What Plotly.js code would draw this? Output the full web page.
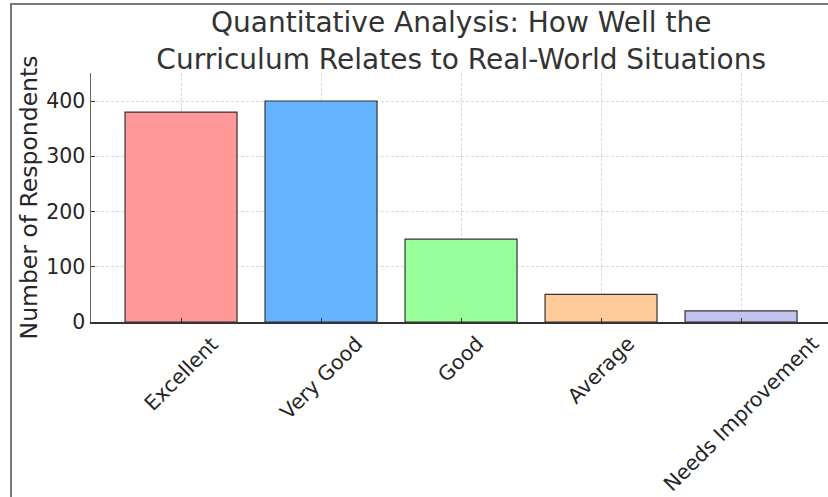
<!DOCTYPE html>
<html>
<head>
<meta charset="utf-8">
<script src="https://cdn.plot.ly/plotly-3.0.1.min.js"></script>
<style>
  html, body { margin: 0; padding: 0; background: #fff; }
  #chart { position: absolute; left: 0; top: 0; width: 828px; height: 497px; }
  #frame { position: absolute; left: 10px; top: 3px; width: 830px; height: 500px;
           border-left: 2px solid #7a7a7a; border-top: 2px solid #7a7a7a; pointer-events: none; box-sizing: border-box; }
</style>
</head>
<body>
<div id="chart"></div>
<div id="frame"></div>
<script>
const categories = ["Excellent", "Very Good", "Good", "Average", "Needs Improvement"];
const respondents = [380, 400, 150, 50, 20];
const barColors = ["#ff9999", "#66b3ff", "#99ff99", "#ffcc99", "#c2c2f0"];
const yTicks = [0, 100, 200, 300, 400];
const titleText = "Quantitative Analysis: How Well the<br>Curriculum Relates to Real-World Situations";
const yTitle = "Number of Respondents";

const xIdx = categories.map((c, i) => i);

const trace = {
  type: "bar",
  x: xIdx,
  y: respondents,
  width: 0.8,
  marker: { color: barColors, line: { color: "#333333", width: 1.2 } },
  hoverinfo: "x+y"
};

const annotations = categories.map((c, i) => ({
  x: i, y: 0, xref: "x", yref: "y",
  text: c, showarrow: false, textangle: -45,
  xanchor: "center", yanchor: "top", yshift: -7,
  font: { family: "DejaVu Sans", size: 20.5, color: "#262626" }
}));

const layout = {
  width: 828, height: 497,
  margin: { l: 91, r: 0, t: 73, b: 175 },
  paper_bgcolor: "rgba(0,0,0,0)",
  plot_bgcolor: "#ffffff",
  font: { family: "DejaVu Sans", color: "#262626" },
  title: {
    text: titleText,
    font: { family: "DejaVu Sans", size: 28, color: "#333333" },
    xref: "container", x: 0.557, xanchor: "center",
    yref: "container", y: 0.935, yanchor: "top"
  },
  xaxis: {
    range: [-0.643, 4.621],
    tickmode: "array", tickvals: xIdx, ticktext: categories.map(() => ""),
    ticks: "inside", ticklen: 4, tickcolor: "#333333",
    showline: true, linecolor: "#333333", linewidth: 1.5,
    showgrid: true, gridcolor: "#d0d0d0", griddash: "3px,2px", gridwidth: 0.8,
    zeroline: false, fixedrange: true
  },
  yaxis: {
    range: [0, 450.7],
    tickmode: "array", tickvals: yTicks, ticktext: yTicks.map(String),
    ticks: "inside", ticklen: 4, tickcolor: "#333333",
    tickfont: { family: "DejaVu Sans", size: 20.5, color: "#262626" },
    showline: true, linecolor: "#666666", linewidth: 1.5,
    showgrid: true, gridcolor: "#d0d0d0", griddash: "3px,2px", gridwidth: 0.8,
    zeroline: false,
    title: { text: yTitle, font: { family: "DejaVu Sans", size: 23.5, color: "#262626" }, standoff: 2 }
  },
  annotations: annotations,
  showlegend: false,
  bargap: 0.2
};

Plotly.newPlot("chart", [trace], layout, { displayModeBar: false, staticPlot: true });
</script>
</body>
</html>
